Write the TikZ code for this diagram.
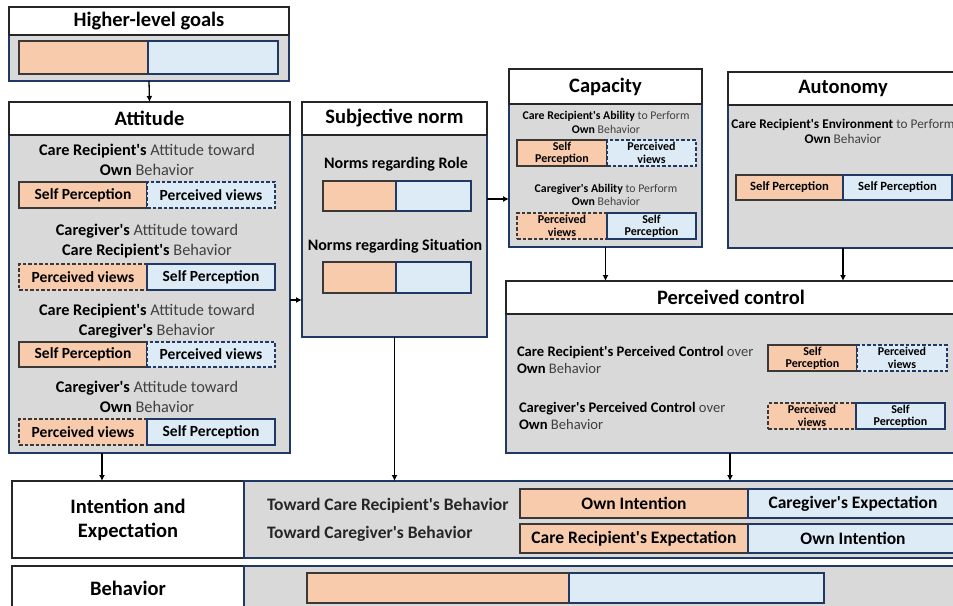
\documentclass[tikz,border=0pt]{standalone}
\usepackage{fontspec}
\setmainfont{Carlito}[Ligatures=TeXOff]
\usetikzlibrary{arrows.meta,calc}
\definecolor{orF}{HTML}{F8CBAD}
\definecolor{blF}{HTML}{DDEBF7}
\definecolor{grF}{HTML}{D9D9D9}
\definecolor{navy}{HTML}{1F3864}
\definecolor{dkg}{HTML}{3B3838}
\definecolor{txg}{HTML}{404040}
\newcommand\bkt[1]{\textcolor{black}{\textbf{#1}}}
\newcommand\bx[6][]{\node[#1, anchor=north west, minimum width=#4pt, minimum height=#5pt] (#2) at (#3) {#6};}
\begin{document}
\begin{tikzpicture}[x=1pt,y=-1pt,
  every node/.style={inner sep=0pt, outer sep=0pt},
  panel/.style={draw=navy, fill=grF, line width=1.2pt},
  hdr/.style={draw=black!85, fill=white, line width=1.2pt, font=\bfseries\fontsize{20.5}{24}\selectfont, align=center},
  obar/.style={draw=dkg, fill=orF, line width=1.4pt, align=center},
  bbar/.style={draw=navy, fill=blF, line width=1.4pt, align=center},
  dsh/.style={dash pattern=on 3.5pt off 2pt},
  blab/.style={font=\bfseries\fontsize{15.5}{17}\selectfont},
  slab/.style={font=\bfseries\fontsize{12}{12.5}\selectfont},
  mlab/.style={font=\bfseries\fontsize{12.6}{14}\selectfont},
  ilab/.style={font=\bfseries\fontsize{17.5}{19}\selectfont},
  txt/.style={text=txg, align=center, font=\fontsize{16.3}{20}\selectfont},
  stxt/.style={text=txg, align=center, font=\fontsize{11.8}{13.5}\selectfont},
  ptxt/.style={text=txg, align=left, anchor=west, font=\fontsize{14.6}{17}\selectfont},
  btxt/.style={font=\bfseries\fontsize{16}{18}\selectfont},
  itxt/.style={anchor=west, text=black!85, font=\bfseries\fontsize{17.5}{19}\selectfont},
  arr/.style={line width=1.3pt, -{Latex[length=6pt,width=6pt]}}
]
\useasboundingbox (0,0) rectangle (953,605);
\clip (0,0) rectangle (953,605);

% Higher-level goals
\bx[panel]{hgp}{9,7}{280}{74}{}
\bx[hdr]{hgh}{9,7}{280}{28}{Higher-level goals}
\bx[obar]{hgo}{19,41}{129}{33}{}
\bx[bbar]{hgb}{148,41}{130}{33}{}

% Attitude
\bx[panel]{attp}{9,102}{281}{351}{}
\bx[hdr]{atth}{9,102}{281}{33}{Attitude}
\node[txt] (at1) at (147,160) {\bkt{Care Recipient's} Attitude toward\\\bkt{Own} Behavior};
\bx[obar,blab]{ao1}{19,182}{128}{26}{Self Perception}
\bx[bbar,blab,dsh]{ab1}{147,182}{128}{26}{Perceived views}
\node[txt] (at2) at (147,241) {\bkt{Caregiver's} Attitude toward\\\bkt{Care Recipient's} Behavior};
\bx[obar,blab,dsh]{ao2}{19,264}{128}{26}{Perceived views}
\bx[bbar,blab]{ab2}{147,264}{128}{26}{Self Perception}
\node[txt] (at3) at (147,321) {\bkt{Care Recipient's} Attitude toward\\\bkt{Caregiver's} Behavior};
\bx[obar,blab]{ao3}{19,342}{128}{25}{Self Perception}
\bx[bbar,blab,dsh]{ab3}{147,342}{128}{25}{Perceived views}
\node[txt] (at4) at (147,396.5) {\bkt{Caregiver's} Attitude toward\\\bkt{Own} Behavior};
\bx[obar,blab,dsh]{ao4}{19,419}{128}{26}{Perceived views}
\bx[bbar,blab]{ab4}{147,419}{128}{26}{Self Perception}

% Subjective norm
\bx[panel]{snp}{302,102}{185}{235}{}
\bx[hdr]{snh}{302,102}{185}{33}{Subjective norm}
\node[btxt] (sn1) at (396,164) {Norms regarding Role};
\bx[obar]{sno1}{323,181}{73}{30}{}
\bx[bbar]{snb1}{396,181}{75}{30}{}
\node[btxt] (sn2) at (395,246) {Norms regarding Situation};
\bx[obar]{sno2}{323,262}{73}{31}{}
\bx[bbar]{snb2}{396,262}{75}{31}{}

% Capacity
\bx[panel]{capp}{509,69}{193}{178}{}
\bx[hdr]{caph}{509,69}{193}{35}{Capacity}
\node[stxt] (cp1) at (606,122.5) {\bkt{Care Recipient's Ability} to Perform\\\bkt{Own} Behavior};
\bx[obar,slab]{cpo1}{517,140}{90}{26}{Self\\Perception}
\bx[bbar,slab,dsh]{cpb1}{607,140}{89}{26}{Perceived\\views}
\node[stxt] (cp2) at (606,195) {\bkt{Caregiver's Ability} to Perform\\\bkt{Own} Behavior};
\bx[obar,slab,dsh]{cpo2}{517,213}{90}{26}{Perceived\\views}
\bx[bbar,slab]{cpb2}{607,213}{89}{26}{Self\\Perception}

% Autonomy
\bx[panel]{autp}{728,72}{230}{176}{}
\bx[hdr]{auth}{728,72}{230}{33}{Autonomy}
\node[stxt,font=\fontsize{13.3}{15}\selectfont] (au1) at (843,131) {\bkt{Care Recipient's Environment} to Perform\\\bkt{Own} Behavior};
\bx[obar,mlab]{auo}{736,175}{107}{25}{Self Perception}
\bx[bbar,mlab]{aub}{843,175}{109}{25}{Self Perception}

% Perceived control
\bx[panel]{pcp}{506,281}{450}{172}{}
\bx[hdr]{pch}{506,281}{450}{33}{Perceived control}
\node[ptxt] (pc1) at (517,359.5) {\bkt{Care Recipient's Perceived Control} over\\\bkt{Own} Behavior};
\node[ptxt] (pc2) at (519,415.5) {\bkt{Caregiver's Perceived Control} over\\\bkt{Own} Behavior};
\bx[obar,slab]{pco1}{768,345}{89}{26}{Self\\Perception}
\bx[bbar,slab,dsh]{pcb1}{857,345}{90}{26}{Perceived\\views}
\bx[obar,slab,dsh]{pco2}{768,403}{88}{26}{Perceived\\views}
\bx[bbar,slab]{pcb2}{856,403}{89}{26}{Self\\Perception}

% Intention and Expectation
\bx[hdr]{intL}{12,481}{232}{77}{Intention and\\Expectation}
\bx[panel]{intR}{244,481}{720}{77}{}
\node[itxt] (it1) at (267,506) {Toward Care Recipient's Behavior};
\node[itxt] (it2) at (267,534) {Toward Caregiver's Behavior};
\bx[obar,ilab]{io1}{520,489}{228}{29}{Own Intention}
\bx[bbar,ilab]{ib1}{748,489}{210}{29}{Caregiver's Expectation}
\bx[obar,ilab]{io2}{520,524}{228}{29}{Care Recipient's Expectation}
\bx[bbar,ilab]{ib2}{748,524}{210}{29}{Own Intention}

% Behavior
\bx[hdr]{behL}{12,566}{232}{44}{Behavior}
\bx[panel]{behR}{244,566}{720}{44}{}
\bx[obar]{bo}{307,573}{262}{30}{}
\bx[bbar]{bb}{569,573}{255}{30}{}

% Connectors
\draw[arr] (hgp.south) -- (atth.north);
\draw[arr] ([yshift=-22.5pt]attp.east) -- ([yshift=-80.5pt]snp.west);
\draw[arr] ([yshift=20.5pt]snp.east) -- ([yshift=-41pt]capp.west);
\draw[arr] (capp.south) -- (capp.south |- pch.north);
\draw[arr] (autp.south) -- (autp.south |- pch.north);
\coordinate (a1) at ([xshift=-47.5pt]attp.south);
\draw[arr] (a1) -- (a1 |- intL.north);
\draw[arr] (snp.south) -- (snp.south |- intR.north);
\coordinate (a2) at ([xshift=-1pt]pcp.south);
\draw[arr] (a2) -- (a2 |- intR.north);
\end{tikzpicture}
\end{document}
